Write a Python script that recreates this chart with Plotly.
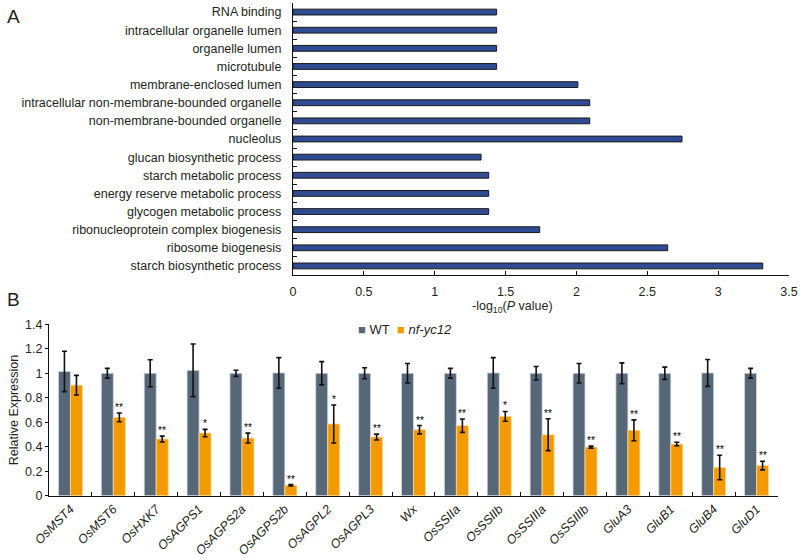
import plotly.graph_objects as go

# ---------------- Panel A data ----------------
go_terms = [
    "RNA binding",
    "intracellular organelle lumen",
    "organelle lumen",
    "microtubule",
    "membrane-enclosed lumen",
    "intracellular non-membrane-bounded organelle",
    "non-membrane-bounded organelle",
    "nucleolus",
    "glucan biosynthetic process",
    "starch metabolic process",
    "energy reserve metabolic process",
    "glycogen metabolic process",
    "ribonucleoprotein complex biogenesis",
    "ribosome biogenesis",
    "starch biosynthetic process",
]
neg_log_p = [1.437, 1.437, 1.437, 1.437, 2.01, 2.094, 2.094, 2.745,
             1.327, 1.381, 1.381, 1.381, 1.741, 2.644, 3.315]
xa_ticks = [0, 0.5, 1, 1.5, 2, 2.5, 3, 3.5]

# ---------------- Panel B data ----------------
genes = ["OsMST4", "OsMST6", "OsHXK7", "OsAGPS1", "OsAGPS2a", "OsAGPS2b",
         "OsAGPL2", "OsAGPL3", "Wx", "OsSSIIa", "OsSSIIb", "OsSSIIIa",
         "OsSSIIIb", "GluA3", "GluB1", "GluB4", "GluD1"]
wt_expr = [1.015, 1.0, 1.0, 1.024, 1.0, 1.003, 1.0, 1.0, 1.0, 1.0, 1.003,
           1.0, 1.0, 1.0, 1.0, 1.003, 1.0]
wt_err = [0.165, 0.04, 0.11, 0.215, 0.025, 0.125, 0.095, 0.045, 0.08, 0.04,
          0.125, 0.055, 0.08, 0.085, 0.05, 0.11, 0.04]
mut_expr = [0.903, 0.64, 0.463, 0.512, 0.471, 0.085, 0.586, 0.479, 0.539,
            0.572, 0.648, 0.498, 0.397, 0.534, 0.422, 0.23, 0.246]
mut_err = [0.08, 0.036, 0.024, 0.03, 0.04, 0.006, 0.155, 0.024, 0.034,
           0.055, 0.04, 0.13, 0.008, 0.085, 0.014, 0.1, 0.035]
signif = ["", "**", "**", "*", "**", "**", "*", "**", "**", "**", "*", "**",
          "**", "**", "**", "**", "**"]
yb_ticks = [0, 0.2, 0.4, 0.6, 0.8, 1.0, 1.2, 1.4]
yb_ticktext = ["0", "0.2", "0.4", "0.6", "0.8", "1", "1.2", "1.4"]
series_names = ["WT", "nf-yc12"]

FONT = "Arial, Liberation Sans, sans-serif"
TXT = "#231F20"
BLUE = "#2F4B93"
GRAY = "#566878"
ORANGE = "#F39A00"

fig = go.Figure()

fig.add_trace(go.Bar(
    y=go_terms, x=neg_log_p, orientation="h",
    marker=dict(color=BLUE, line=dict(color="#1A1A1A", width=1)),
    width=0.32, xaxis="x", yaxis="y", showlegend=False,
))

fig.add_trace(go.Bar(
    x=genes, y=wt_expr, name=series_names[0],
    marker=dict(color=GRAY, line=dict(color="#D5DADF", width=0.8)),
    error_y=dict(type="data", array=wt_err, color="#111111", thickness=1.6, width=2.5),
    xaxis="x2", yaxis="y2", showlegend=False,
))
fig.add_trace(go.Bar(
    x=genes, y=mut_expr, name=series_names[1],
    marker=dict(color=ORANGE, line=dict(color="#FBD9A0", width=0.8)),
    error_y=dict(type="data", array=mut_err, color="#111111", thickness=1.6, width=2.5),
    xaxis="x2", yaxis="y2", showlegend=False,
))

annotations = []
for g, v, e, s in zip(genes, mut_expr, mut_err, signif):
    if s:
        annotations.append(dict(
            x=g, y=v + e, xref="x2", yref="y2", text=s, showarrow=False,
            xshift=6, yanchor="bottom", yshift=-2,
            font=dict(family=FONT, size=10, color="#000000")))

# legend (key squares + labels)
annotations += [
    dict(x=356 / 800, y=1 - 329 / 558, xref="paper", yref="paper",
         text=f"<span style='color:{GRAY}'>■</span> {series_names[0]}",
         showarrow=False, xanchor="left", yanchor="middle",
         font=dict(family=FONT, size=13, color=TXT)),
    dict(x=395 / 800, y=1 - 329 / 558, xref="paper", yref="paper",
         text=f"<span style='color:{ORANGE}'>■</span> <i>{series_names[1]}</i>",
         showarrow=False, xanchor="left", yanchor="middle",
         font=dict(family=FONT, size=13, color=TXT)),
]

annotations += [
    dict(x=5 / 800, y=1 - 16 / 558, xref="paper", yref="paper", text="A",
         showarrow=False, xanchor="left", yanchor="middle",
         font=dict(family=FONT, size=19, color=TXT)),
    dict(x=5 / 800, y=1 - 299 / 558, xref="paper", yref="paper", text="B",
         showarrow=False, xanchor="left", yanchor="middle",
         font=dict(family=FONT, size=19, color=TXT)),
    dict(x=512 / 800, y=1 - 307 / 558, xref="paper", yref="paper",
         text="-log<sub>10</sub>(<i>P</i> value)", showarrow=False,
         xanchor="center", yanchor="middle",
         font=dict(family=FONT, size=12.5, color=TXT)),
]

axis_common = dict(showline=True, linecolor="#111111", linewidth=1.3,
                   showgrid=False, zeroline=False, mirror=False,
                   automargin=False)

fig.update_layout(
    width=800, height=558,
    margin=dict(l=0, r=0, t=0, b=0, autoexpand=False),
    paper_bgcolor="white", plot_bgcolor="white",
    font=dict(family=FONT, color=TXT),
    barmode="group", bargap=0.44, bargroupgap=0,
    showlegend=False,
    xaxis=dict(domain=[293 / 800, 789 / 800], anchor="y", range=[0, 3.5],
               tickvals=xa_ticks, ticktext=[f"{t:g}" for t in xa_ticks],
               ticks="inside", ticklen=4, tickcolor="#111111",
               ticklabelstandoff=5,
               tickfont=dict(size=12.5, family=FONT, color=TXT),
               **axis_common),
    yaxis=dict(domain=[1 - 275 / 558, 1 - 3 / 558], anchor="x",
               autorange="reversed", type="category",
               ticks="inside", ticklen=4, tickson="boundaries", tickcolor="#111111",
               ticklabelstandoff=8,
               tickfont=dict(size=12.5, family=FONT, color=TXT),
               **axis_common),
    xaxis2=dict(domain=[49 / 800, 778 / 800], anchor="y2", type="category",
                ticks="inside", ticklen=4, tickson="boundaries", tickcolor="#111111",
                tickangle=-45, ticklabelstandoff=0,
                tickfont=dict(size=12.5, family=FONT, color=TXT, style="italic"),
                **axis_common),
    yaxis2=dict(domain=[1 - 495.7 / 558, 1 - 324.3 / 558], anchor="x2",
                range=[0, 1.4], tickvals=yb_ticks, ticktext=yb_ticktext,
                ticks="outside", ticklen=3, tickcolor="#111111",
                tickfont=dict(size=12.5, family=FONT, color=TXT),
                title=dict(text="Relative Expression", standoff=3,
                           font=dict(size=12.5, family=FONT, color=TXT)),
                **axis_common),
    annotations=annotations,
)

fig.write_html("out.html",
               config={"displayModeBar": False},
               post_script="document.body.style.margin='0';"
                           "document.body.style.overflow='hidden';")
